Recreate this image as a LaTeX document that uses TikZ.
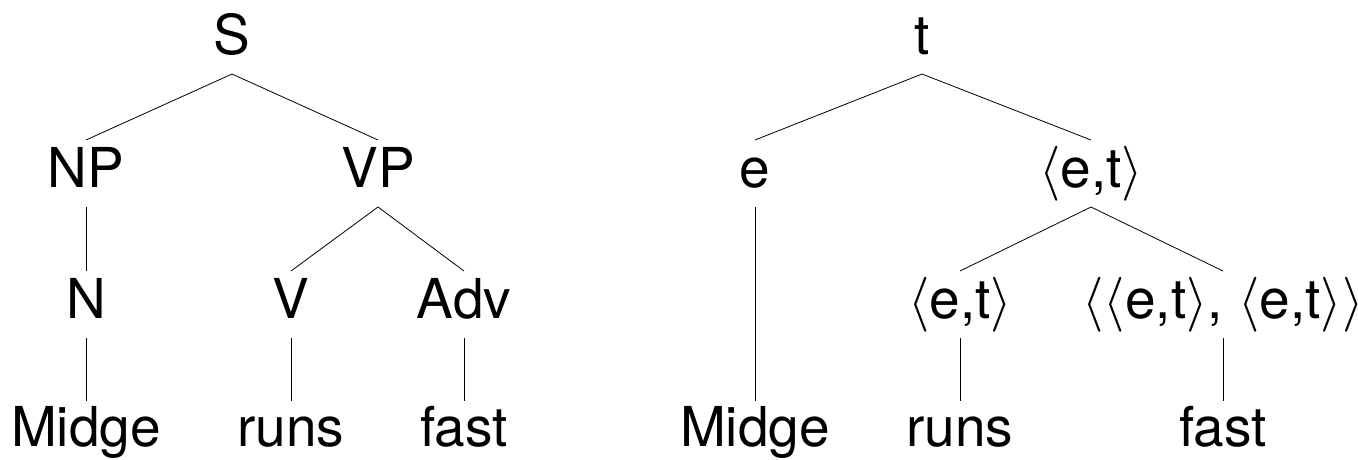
\RequirePackage{fix-cm}
\documentclass[tikz,border=0pt]{standalone}
\usepackage{fontspec}
\setmainfont{TeX Gyre Heros}
\newcommand\lan{$\langle$}
\newcommand\ran{$\rangle$}
\begin{document}
\begin{tikzpicture}[x=1pt,y=-1pt,
  lbl/.style={inner sep=0pt, outer sep=0pt, anchor=base, text height=47pt, text depth=20pt, font=\fontsize{55}{66}\selectfont},
  leaf/.style={lbl, text height=45pt},
  edge/.style={line width=0.8pt}]
\useasboundingbox (0,0) rectangle (1358,459);
% left tree
\node[lbl] (S) at (232,54) {S};
\node[lbl] (NP) at (86,187) {NP};
\node[lbl] (VP) at (378,187) {VP};
\node[lbl] (N) at (86,318) {N};
\node[lbl] (V) at (291,318) {V};
\node[lbl] (Adv) at (464,318) {Adv};
\node[leaf] (w1) at (86,446) {Midge};
\node[leaf] (w2) at (291,446) {runs};
\node[leaf] (w3) at (464,446) {fast};
\draw[edge] (NP.north) -- (S.south) -- (VP.north);
\draw[edge] (NP.south) -- (N.north);
\draw[edge] (V.north) -- (VP.south) -- (Adv.north);
\draw[edge] (N.south) -- (w1.north);
\draw[edge] (V.south) -- (w2.north);
\draw[edge] (Adv.south) -- (w3.north);
% right tree
\node[lbl] (t) at (922,54) {t};
\node[lbl] (e) at (755,187) {e};
\node[lbl] (et) at (1091,187) {\lan e,t\ran};
\node[lbl] (et2) at (960,318) {\lan e,t\ran};
\node[lbl] (mod) at (1223,318) {\lan\lan e,t\ran, \lan e,t\ran\ran};
\node[leaf] (r1) at (755,446) {Midge};
\node[leaf] (r2) at (960,446) {runs};
\node[leaf] (r3) at (1223,446) {fast};
\draw[edge] (e.north) -- (t.south) -- (et.north);
\draw[edge] (et2.north) -- (et.south) -- (mod.north);
\draw[edge] (e.south) -- (r1.north);
\draw[edge] (et2.south) -- (r2.north);
\draw[edge] (mod.south) -- (r3.north);
\end{tikzpicture}
\end{document}
